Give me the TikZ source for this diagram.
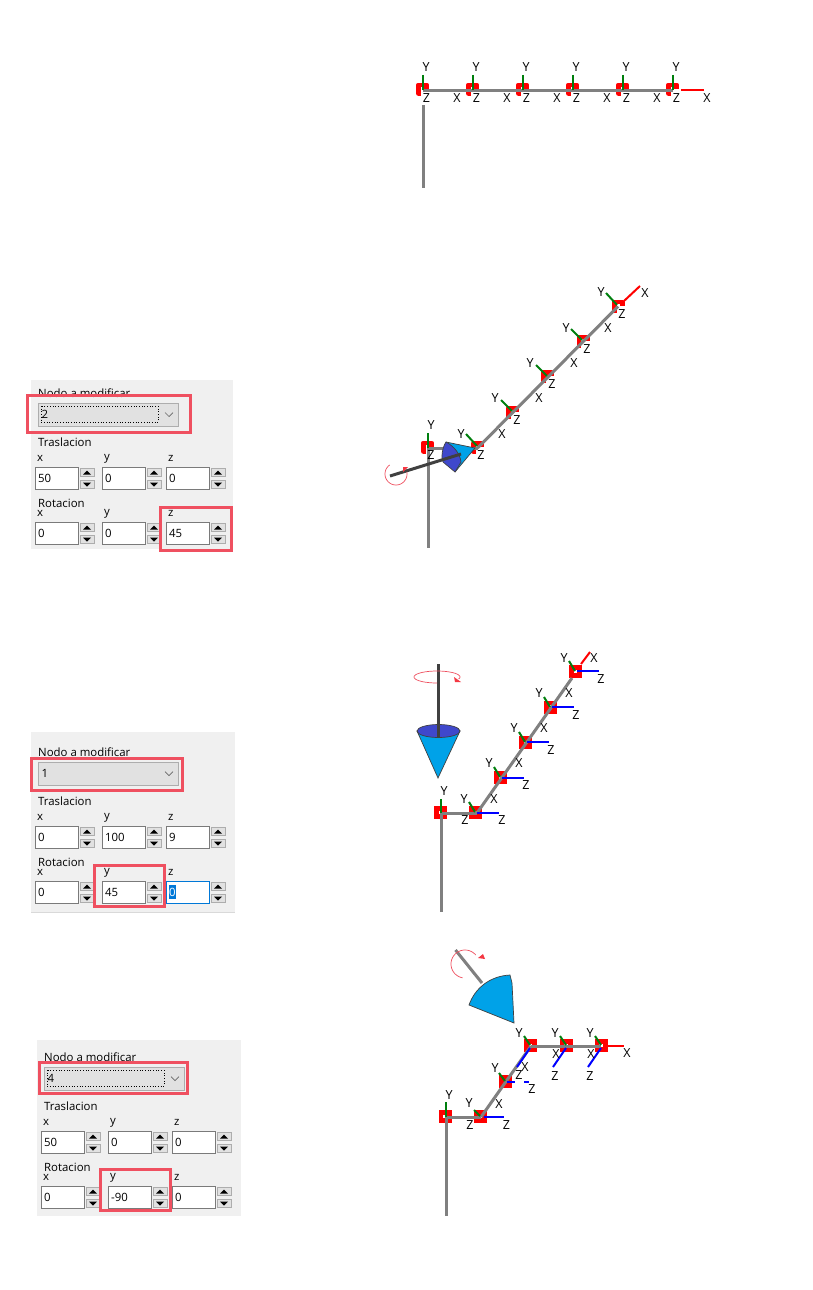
\documentclass[tikz,border=0pt]{standalone}
\usepackage{fontspec}
\setmainfont{Open Sans}
\definecolor{panelbg}{HTML}{F0F0F0}
\definecolor{btnbg}{HTML}{E1E1E1}
\definecolor{btnln}{HTML}{ADADAD}
\definecolor{fieldln}{HTML}{7A7A7A}
\definecolor{hl}{HTML}{EF5060}
\definecolor{conecy}{HTML}{00A2E8}
\definecolor{coneb}{HTML}{3F48CC}
\definecolor{bone}{HTML}{808080}
\definecolor{axg}{HTML}{007F0E}
\definecolor{rod}{HTML}{404040}
\definecolor{focusb}{HTML}{0078D7}
\tikzset{
  ftext/.style={font=\fontsize{11.4}{13}\selectfont,inner sep=0pt,anchor=west,text=black},
  axlab/.style={font=\fontsize{12.5}{14}\selectfont,inner sep=0pt,text=black},
  bonel/.style={draw=bone,line width=3pt},
  ringl/.style={draw=red,line width=4.6pt,line join=round},
  axy/.style={draw=axg,line width=2pt},
  axx/.style={draw=red,line width=2pt},
  axz/.style={draw=blue,line width=2pt},
  hlbox/.style={draw=hl,line width=3pt},
  rotl/.style={draw=hl,line width=0.7pt},
  rott/.style={fill=hl!70!red,draw=none},
  conel/.style={draw=black!75,line width=0.7pt},
  field/.style={draw=fieldln,line width=1pt,fill=white},
  btn/.style={draw=btnln,line width=0.8pt,fill=btnbg},
  rodl/.style={draw=rod,line width=3pt},
}
\newcount\lbn
\newcommand{\lb}[3]{\global\advance\lbn by 1 \node[axlab] (ax\the\lbn) at (#1,#2) {#3};}
% open ring: left + top sides with stubs
\newcommand{\cring}[2]{\draw[ringl] (#1+4.2,#2-0.5)--(#1+4.2,#2-4.2)--(#1-4.2,#2-4.2)--(#1-4.2,#2+4.2)--(#1-2,#2+4.2);}
\newcommand{\fring}[2]{\draw[ringl,line join=miter] (#1-4.2,#2-4.2) rectangle (#1+4.2,#2+4.2);}
% spin field: name, x, y, label, value
\newcommand{\spin}[5]{%
  \node[ftext] (#1l) at (#2+2,#3-8.5) {#4};
  \draw[field] (#2,#3) rectangle (#2+43,#3+22);
  \node[ftext] (#1v) at (#2+3,#3+11) {#5};
  \draw[btn] (#2+45,#3+1) rectangle (#2+59,#3+9.5);
  \draw[btn] (#2+45,#3+13) rectangle (#2+59,#3+21.5);
  \fill (#2+48,#3+7.5)--(#2+56,#3+7.5)--(#2+52,#3+3.5)--cycle;
  \fill (#2+48,#3+15.5)--(#2+56,#3+15.5)--(#2+52,#3+19.5)--cycle;
}
% form: prefix, dx, dy, combo, tx,ty,tz, rx,ry,rz
\newcommand{\formpanel}[9]{%
  \def\pfx{#1}\def\pdx{#2}\def\pdy{#3}\def\pcb{#4}%
  \def\pa{#5}\def\pb{#6}\def\pc{#7}\def\pd{#8}\def\pe{#9}\formpanelb}
\newcommand{\formpanelb}[3]{%
  \begin{scope}[shift={(\pdx,\pdy)}]
  \node[ftext] (\pfx t) at (38,393.5) {Nodo a modificar};
  \draw[btn] (38,403) rectangle (178,426);
  \node[ftext] (\pfx c) at (41.5,414.5) {\pcb};
  \draw[line width=.7pt,draw=black!60] (165,412.5)--(169,416.5)--(173,412.5);
  #2
  \node[ftext] (\pfx tr) at (38,442.5) {Traslacion};
  \spin{\pfx a}{35}{467}{x}{\pa}
  \spin{\pfx b}{102}{467}{y}{\pb}
  \spin{\pfx d}{166}{467}{z}{\pc}
  \node[ftext] (\pfx ro) at (38,503.5) {Rotacion};
  \spin{\pfx e}{35}{#1}{x}{\pd}
  \spin{\pfx f}{102}{#1}{y}{\pe}
  \spin{\pfx g}{166}{#1}{z}{#3}
  \end{scope}
}
\begin{document}
\begin{tikzpicture}[x=1pt,y=-1pt]
\useasboundingbox (0,0) rectangle (812,1290);
\fill[white] (0,0) rectangle (812,1290);

%% ---------- row 1 ----------
\foreach \n/\px in {0/423,1/473,2/523,3/573,4/623,5/673} \coordinate (a\n) at (\px,90);
\foreach \px in {423,473,523,573,623,673} {\cring{\px-.5}{89}}
\coordinate (a6) at (704,89.5);
\coordinate (a0b) at (423.5,105);
\coordinate (a0c) at (423.5,188);
\draw[bonel] (a0)--(a5);
\draw[bonel] (a0b)--(a0c);
\draw[axx] (681,89.5)--(a6);
\draw[draw=white,line width=1pt] (675,90)--(680,90);
\foreach \px in {423,473,523,573,623,673} {\draw[axy] (\px,75)--(\px,90);}
\lb{426}{67}{Y}\lb{476}{67}{Y}\lb{526}{67}{Y}\lb{576}{67}{Y}\lb{626}{67}{Y}\lb{676}{67}{Y}
\lb{426.5}{98}{Z}\lb{476.5}{98}{Z}\lb{526.5}{98}{Z}\lb{576.5}{98}{Z}\lb{626.5}{98}{Z}\lb{676.5}{98}{Z}
\lb{457}{98}{X}\lb{507}{98}{X}\lb{557}{98}{X}\lb{607}{98}{X}\lb{657}{98}{X}\lb{707}{98}{X}

%% ---------- form 1 ----------
\fill[panelbg] (31,380) rectangle (233,549);
\formpanel{p}{0}{0}{2}{50}{0}{0}{0}{0}{522}{\draw[dotted,line width=.7pt] (41,406) rectangle (158,422);}{45}
\draw[hlbox] (27.5,395) rectangle (190,432.5);
\draw[hlbox] (160,507.5) rectangle (231,550.5);

%% ---------- row 2 ----------
\coordinate (b0) at (428,448);
\coordinate (b0d) at (428,548);
\coordinate (b1) at (477.5,448);
\coordinate (b5) at (618,306.5);
\cring{427.5}{447}\cring{477.5}{447.5}\cring{512.5}{412}\cring{547.5}{376.5}\cring{583}{341}\cring{618.5}{306}
\draw[bonel] (b0)--(b1);
\draw[bonel] (b1)--(b5);
\draw[bonel] (b0)--(b0d);
\draw[axx] (624,301)--(640,286);
\draw[axy] (428,433)--(b0);
\draw[axy] (466,434)--(477,446);
\draw[axy] (501,400)--(512,411);
\draw[axy] (536,365)--(547,376);
\draw[axy] (571,329)--(582,340);
\draw[axy] (606,293)--(617,305);
% cone
\fill[conecy] (446,442)--(475,448)--(455,472)--cycle;
\draw[conel] (446,442)--(475,448)--(455,472);
\draw[conel,fill=coneb] (446,442) .. controls (442,448) and (441,458) .. (443,462) -- (455,472) -- (461,462) .. controls (460,454) and (455,447) .. (446,442) -- cycle;
\draw[rodl] (390,476)--(461,454);
\draw[rotl,smooth] plot[domain=-10:235,samples=40] ({396+11*cos(\x)},{474+11*sin(\x)});
\fill[rott] (403,467)--(408,467)--(403,472)--cycle;
\lb{431}{425}{Y}\lb{431}{455}{Z}
\lb{461}{434}{Y}\lb{481}{455}{Z}\lb{502}{434}{X}
\lb{495}{398}{Y}\lb{517}{420}{Z}\lb{539}{398}{X}
\lb{530}{363}{Y}\lb{552}{384}{Z}\lb{574}{363}{X}
\lb{566}{328}{Y}\lb{587}{349}{Z}\lb{608}{328}{X}
\lb{601}{292}{Y}\lb{622}{314}{Z}\lb{645}{293}{X}

%% ---------- form 2 ----------
\fill[panelbg] (31,732) rectangle (235,912);
\draw[draw=black!15,line width=.8pt] (31,912) -- (235,912);
\formpanel{q}{0}{359}{1}{0}{100}{9}{0}{45}{522}{}{}
\draw[draw=focusb,line width=1pt,fill=white] (166,881) rectangle (209,903);
\fill[focusb] (168.5,885) rectangle (176,899);
\node[ftext,text=white] (qsel) at (169,892) {0};
\draw[hlbox] (31.5,758) rectangle (182,790);
\draw[hlbox] (94.5,865) rectangle (164.5,906);

%% ---------- row 3 ----------
\coordinate (c0) at (441,813);
\coordinate (c0d) at (441,912);
\coordinate (c1) at (477,813);
\coordinate (c5) at (572,678);
\fring{440.5}{812.5}\fring{475.5}{812.5}\fring{500.5}{777.5}\fring{525.5}{742.5}\fring{550.5}{707}\fring{575.5}{671.5}
\draw[bonel] (c0)--(c1);
\draw[bonel] (c1)--(c5);
\draw[bonel] (c0)--(c0d);
\draw[axy] (441,799)--(c0);
\draw[axy] (469,802)--(475,812);
\draw[axy] (494,767)--(500,777);
\draw[axy] (519,732)--(525,742);
\draw[axy] (544,697)--(550,707);
\draw[axy] (569,661)--(575,671);
\draw[axx] (581,664)--(590,652);
\foreach \px/\py in {477/813,502/778,527/742,552/707,577/671} {\draw[axz] (\px,\py)--(\px+22,\py);}
% cone
\draw[conel,fill=conecy] (417,731)--(438,778)--(460,731)--cycle;
\draw[conel,fill=coneb] (438.5,731) ellipse [x radius=21.5,y radius=6.5];
\draw[rodl] (438.5,664)--(438.5,738);
\draw[rotl,smooth] plot[domain=90:380,samples=40] ({437+23*cos(\x)},{677+6*sin(\x)});
\fill[rott] (454,677)--(461,682)--(455,682)--cycle;
\lb{444}{791}{Y}\lb{465}{820}{Z}
\lb{464}{799}{Y}\lb{494}{799}{X}\lb{502}{820}{Z}
\lb{489}{763}{Y}\lb{519}{763}{X}\lb{526}{785}{Z}
\lb{514}{728}{Y}\lb{544}{728}{X}\lb{551}{750}{Z}
\lb{539}{693}{Y}\lb{569}{693}{X}\lb{576}{715}{Z}
\lb{564}{658}{Y}\lb{594}{658}{X}\lb{601}{679}{Z}

%% ---------- form 3 ----------
\fill[panelbg] (37,1040) rectangle (241,1216);
\formpanel{r}{6}{664}{4}{50}{0}{0}{0}{-90}{522}{\draw[dotted,line width=.7pt] (41,406) rectangle (158,422);}{0}
\draw[hlbox] (39.5,1062.5) rectangle (187,1093);
\draw[hlbox] (100.5,1169.5) rectangle (170.5,1210.5);

%% ---------- row 4 ----------
\coordinate (d0) at (446,1117);
\coordinate (d0d) at (446,1216);
\coordinate (d1) at (481,1117);
\coordinate (d3) at (531,1046);
\coordinate (d5) at (601,1046);
\fring{445}{1116.5}\fring{480.5}{1116.5}\fring{505.5}{1081.5}\fring{530.5}{1045.5}\fring{566}{1045.5}\fring{601}{1045.5}
\draw[bonel] (d0)--(d1);
\draw[bonel] (d1)--(d3);
\draw[bonel] (d3)--(d5);
\draw[bonel] (d0)--(d0d);
\draw[axy] (446,1102)--(d0);
\draw[axy] (474,1110)--(480,1116);
\draw[axy] (499,1073)--(505,1081);
\draw[axy] (524,1036)--(530,1045);
\draw[axy] (560,1036)--(566,1045);
\draw[axy] (595,1036)--(601,1045);
\draw[axx] (607,1046)--(624,1046);
\draw[axz] (484,1117)--(504,1117);
\draw[axz] (507,1082)--(515,1082);
\draw[axz] (524,1082)--(529,1082);
\draw[axz] (530,1048)--(517,1067);
\draw[axz] (566,1048)--(553,1067);
\draw[axz] (601,1048)--(588,1067);
% cone
\draw[conel,fill=conecy] (514,1023)--(469,1005) .. controls (475,988) and (490,976) .. (510,975) -- (512,983) -- cycle;
\draw[bonel] (455.5,950)--(482,983);
\draw[rotl,smooth] plot[domain=100:320,samples=40] ({465+14*cos(\x)},{964+14*sin(\x)});
\fill[rott] (478,958)--(485,959)--(483,954)--cycle;
\lb{449}{1095}{Y}\lb{470}{1125}{Z}
\lb{469}{1103}{Y}\lb{499}{1104}{X}\lb{506.5}{1125}{Z}
\lb{495}{1068}{Y}\lb{525}{1067}{X}\lb{519}{1075}{Z}\lb{532}{1089}{Z}
\lb{519}{1033}{Y}
\lb{555}{1033}{Y}\lb{556}{1054}{X}\lb{555}{1076}{Z}
\lb{590}{1033}{Y}\lb{591}{1054}{X}\lb{590}{1076}{Z}\lb{627}{1053}{X}
\end{tikzpicture}
\end{document}
